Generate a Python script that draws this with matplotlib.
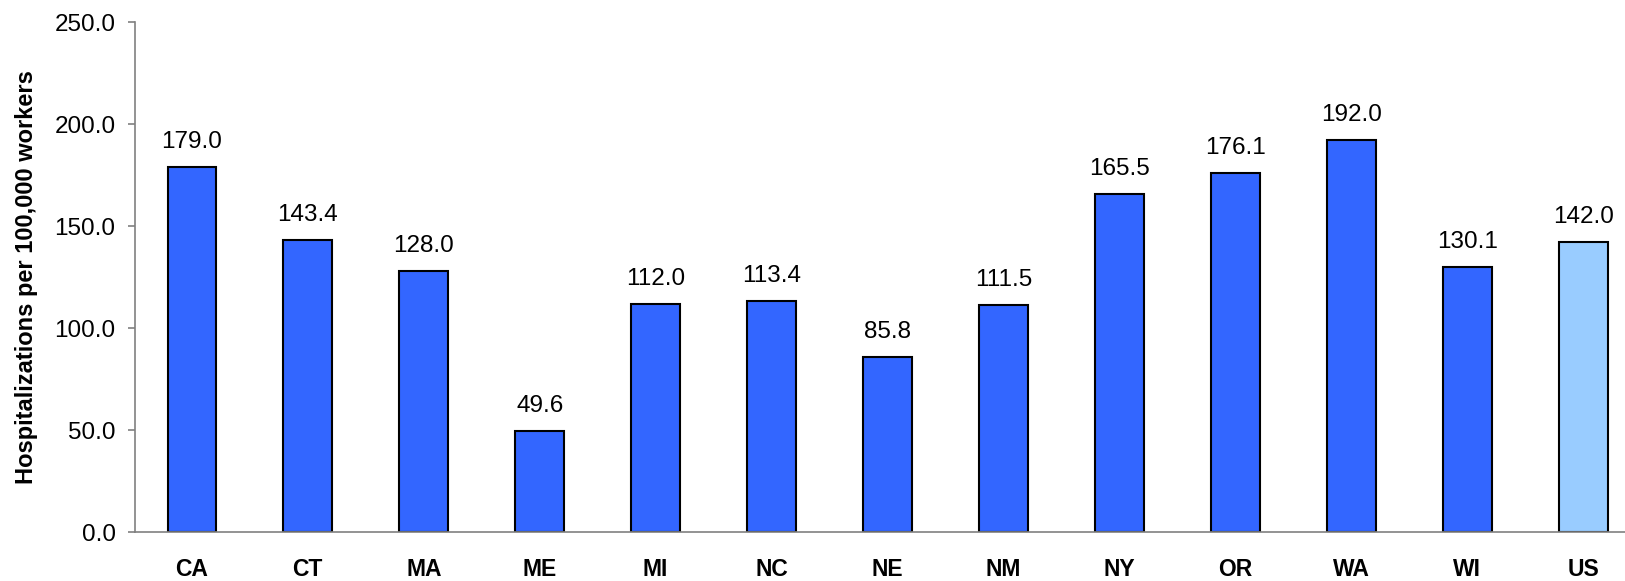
import matplotlib.pyplot as plt

states = ["CA", "CT", "MA", "ME", "MI", "NC", "NE", "NM", "NY", "OR", "WA", "WI", "US"]
rates = [179.0, 143.4, 128.0, 49.6, 112.0, 113.4, 85.8, 111.5, 165.5, 176.1, 192.0, 130.1, 142.0]
colors = ["#3366FF"] * 12 + ["#99CCFF"]

plt.rcParams['font.family'] = ['Liberation Sans', 'DejaVu Sans']

fig = plt.figure(figsize=(16.25, 5.81), dpi=100)
ax = fig.add_axes([0.0831, 0.0843, 0.9169, 0.8777])

x = range(len(states))
bars = ax.bar(x, rates, width=0.42, color=colors, edgecolor="black", linewidth=1.5)
for b, v in zip(bars, rates):
    ax.text(b.get_x() + b.get_width() / 2, v + 9.3, f"{v:.1f}", ha="center", va="baseline", fontsize=17.5)

ax.set_xlim(-0.49, 12.36)
ax.set_ylim(0, 250)
ax.set_yticks([0, 50, 100, 150, 200, 250])
ax.set_yticklabels([f"{t:.1f}" for t in [0, 50, 100, 150, 200, 250]], fontsize=17.5)
ax.set_xticks(list(x))
ax.set_xticklabels(states, fontsize=16.5, fontweight="bold")
ax.tick_params(axis="x", length=0, pad=19)
ax.tick_params(axis="y", length=5, color="#808080", width=1.2, pad=9)
ax.set_ylabel("Hospitalizations per 100,000 workers", fontsize=17, fontweight="bold", labelpad=12)

for s in ["top", "right"]:
    ax.spines[s].set_visible(False)
for s in ["left", "bottom"]:
    ax.spines[s].set_color("#808080")
    ax.spines[s].set_linewidth(1.2)

fig.savefig("out.png", dpi=100)
